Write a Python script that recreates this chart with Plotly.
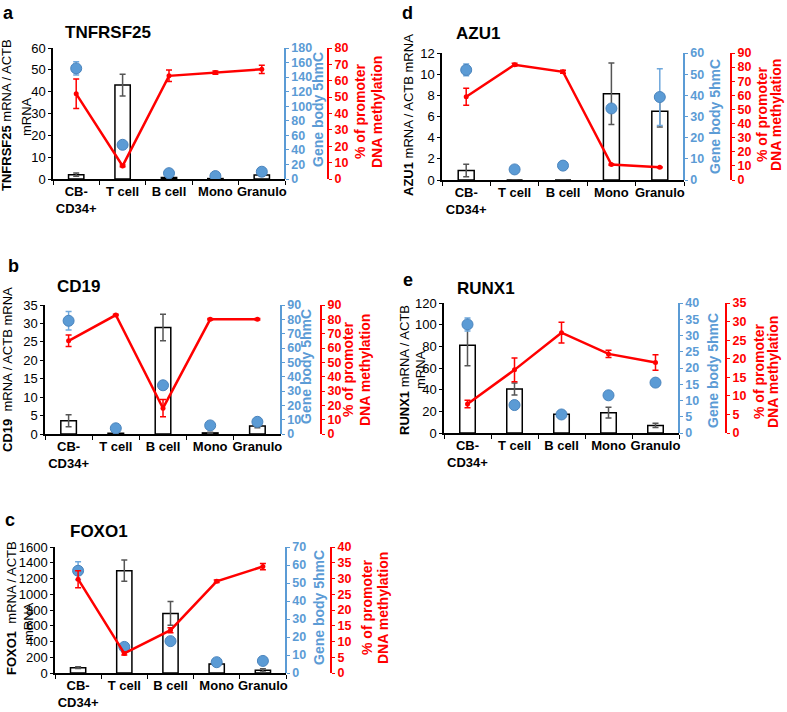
import plotly.graph_objects as go

W, H = 787, 712

CATEGORIES = ["CB-<br>CD34+", "T cell", "B cell", "Mono", "Granulo"]

# ---- a: TNFRSF25
TNFRSF25_mrna = [2.0, 43.0, 0.7, 0.2, 1.8]
TNFRSF25_mrna_err = [0.7, 5.0, 0.2, 0.1, 0.4]
TNFRSF25_hmc = [152, 47, 8, 4, 10]
TNFRSF25_hmc_err = [9, 0, 0, 0, 0]
TNFRSF25_meth = [52, 8, 63, 65, 67]
TNFRSF25_meth_err = [9, 0.5, 3.5, 1, 2.5]

# ---- b: CD19
CD19_mrna = [3.6, 0.2, 28.9, 0.3, 2.2]
CD19_mrna_err = [1.6, 0.1, 3.6, 0.2, 0.5]
CD19_hmc = [79, 4, 34, 6, 8.5]
CD19_hmc_err = [6.5, 0, 0, 0, 0]
CD19_meth = [65, 83, 18, 80, 80]
CD19_meth_err = [4, 0.5, 6, 0.5, 0.5]

# ---- c: FOXO1
FOXO1_mrna = [68, 1300, 757, 115, 34]
FOXO1_mrna_err = [10, 135, 150, 10, 20]
FOXO1_hmc = [56.8, 14.5, 17.7, 6, 6.7]
FOXO1_hmc_err = [5, 0, 0, 0, 0]
FOXO1_meth = [29.8, 6.2, 13.6, 29.1, 33.8]
FOXO1_meth_err = [2.7, 0.5, 0.8, 0.4, 1.0]

# ---- d: AZU1
AZU1_mrna = [0.9, 0, 0, 8.15, 6.5]
AZU1_mrna_err = [0.6, 0, 0, 2.9, 1.5]
AZU1_hmc = [52, 5, 6.8, 33.8, 39.2]
AZU1_hmc_err = [2.8, 0, 0, 0, 13.4]
AZU1_meth = [59, 81.7, 76.7, 10.9, 9.0]
AZU1_meth_err = [6, 1, 1, 0.5, 0.3]

# ---- e: RUNX1
RUNX1_mrna = [81, 40.6, 17.2, 18.8, 7]
RUNX1_mrna_err = [19, 5.5, 3, 5, 2]
RUNX1_hmc = [33.4, 8.6, 5.7, 11.6, 15.5]
RUNX1_hmc_err = [2, 0, 0, 0, 0]
RUNX1_meth = [7.8, 17, 27, 21.3, 19]
RUNX1_meth_err = [1, 3.2, 2.8, 1, 2.1]

BLUE = "#5b9bd5"
RED = "#ff0000"
FONT = "Liberation Sans, Arial, sans-serif"

panels = [
    dict(letter="a", gene="TNFRSF25",
         ytitle=[("<b>TNFRSF25</b> mRNA / ACTB", 6, 115), ("mRNA", 27, 117)],
         mrna=TNFRSF25_mrna, mrna_err=TNFRSF25_mrna_err, hmc=TNFRSF25_hmc, hmc_err=TNFRSF25_hmc_err,
         meth=TNFRSF25_meth, meth_err=TNFRSF25_meth_err,
         lr=[0, 60], ld=10, br=[0, 180], bd=20, rr=[0, 80], rd=10,
         left=53, blue=285, red=328, top=48, bottom=179,
         letter_xy=(1, 13), gene_xy=(63, 32), bt_xy=(318, 110), rt_x=(360, 377), rt_y=112),
    dict(letter="b", gene="CD19",
         ytitle=[("<b>CD19</b>\u00a0\u00a0mRNA / ACTB mRNA", 7, 370)],
         mrna=CD19_mrna, mrna_err=CD19_mrna_err, hmc=CD19_hmc, hmc_err=CD19_hmc_err,
         meth=CD19_meth, meth_err=CD19_meth_err,
         lr=[0, 35], ld=5, br=[0, 90], bd=10, rr=[0, 90], rd=10,
         left=45, blue=281, red=321, top=305, bottom=434,
         letter_xy=(6, 266), gene_xy=(55, 287), bt_xy=(306, 367), rt_x=(348, 365), rt_y=370),
    dict(letter="c", gene="FOXO1",
         ytitle=[("<b>FOXO1</b>\u00a0\u00a0mRNA / ACTB", 11, 608), ("mRNA", 28, 622)],
         mrna=FOXO1_mrna, mrna_err=FOXO1_mrna_err, hmc=FOXO1_hmc, hmc_err=FOXO1_hmc_err,
         meth=FOXO1_meth, meth_err=FOXO1_meth_err,
         lr=[0, 1600], ld=200, br=[0, 70], bd=10, rr=[0, 40], rd=5,
         left=55, blue=286, red=331, top=547, bottom=673,
         letter_xy=(3, 520), gene_xy=(68, 531), bt_xy=(319, 608), rt_x=(367, 383), rt_y=608),
    dict(letter="d", gene="AZU1",
         ytitle=[("<b>AZU1</b> mRNA / ACTB mRNA", 408, 115)],
         mrna=AZU1_mrna, mrna_err=AZU1_mrna_err, hmc=AZU1_hmc, hmc_err=AZU1_hmc_err,
         meth=AZU1_meth, meth_err=AZU1_meth_err,
         lr=[0, 12], ld=2, br=[0, 60], bd=10, rr=[0, 90], rd=10,
         left=442, blue=684, red=731, top=53, bottom=180,
         letter_xy=(400, 13), gene_xy=(454, 33), bt_xy=(715, 117), rt_x=(762, 776), rt_y=115),
    dict(letter="e", gene="RUNX1",
         ytitle=[("<b>RUNX1</b> mRNA / ACTB", 404, 370), ("mRNA", 420, 370)],
         mrna=RUNX1_mrna, mrna_err=RUNX1_mrna_err, hmc=RUNX1_hmc, hmc_err=RUNX1_hmc_err,
         meth=RUNX1_meth, meth_err=RUNX1_meth_err,
         lr=[0, 120], ld=20, br=[0, 40], bd=5, rr=[0, 35], rd=5,
         left=444, blue=679, red=726, top=303, bottom=433,
         letter_xy=(401, 280), gene_xy=(455, 288), bt_xy=(713, 371), rt_x=(759, 773), rt_y=372),
]


def px(x):
    return x / W


def py(y):
    return 1 - y / H


fig = go.Figure()
layout = dict(
    template="none",
    width=W, height=H, margin=dict(l=0, r=0, t=0, b=0, pad=0), autosize=False,
    paper_bgcolor="white", plot_bgcolor="rgba(0,0,0,0)",
    showlegend=False, font=dict(family=FONT, color="black", size=13),
    annotations=[],
)


def rot_text(text, x, y, size, color):
    return dict(text=text, x=px(x), y=py(y), xref="paper", yref="paper",
                xanchor="center", yanchor="middle", showarrow=False, textangle=-90,
                font=dict(family=FONT, size=size, color=color))


for i, p in enumerate(panels):
    xi = i + 1
    xname = "x" if xi == 1 else f"x{xi}"
    ys = [3 * i + 1, 3 * i + 2, 3 * i + 3]
    ynames = ["y" if n == 1 else f"y{n}" for n in ys]
    ykeys = ["yaxis" if n == 1 else f"yaxis{n}" for n in ys]
    xkey = "xaxis" if xi == 1 else f"xaxis{xi}"

    fig.add_trace(go.Bar(
        x=CATEGORIES, y=p["mrna"], xaxis=xname, yaxis=ynames[0], width=0.33,
        marker=dict(color="white", line=dict(color="black", width=1.5)),
        error_y=dict(type="data", array=p["mrna_err"], color="#555555", thickness=1.5, width=3),
    ))
    fig.add_trace(go.Scatter(
        x=CATEGORIES, y=p["hmc"], xaxis=xname, yaxis=ynames[1], mode="markers",
        marker=dict(color=BLUE, size=11, line=dict(color="#4a84bd", width=1)),
        error_y=dict(type="data", array=p["hmc_err"], color="#6fa8dc", thickness=1.5, width=3),
    ))
    fig.add_trace(go.Scatter(
        x=CATEGORIES, y=p["meth"], xaxis=xname, yaxis=ynames[2], mode="lines+markers",
        line=dict(color=RED, width=2.5), marker=dict(color=RED, size=5),
        error_y=dict(type="data", array=p["meth_err"], color=RED, thickness=1.5, width=3),
    ))

    ydom = [py(p["bottom"]), py(p["top"])]
    layout[xkey] = dict(
        domain=[px(p["left"]), px(p["blue"])], anchor=ynames[0], type="category",
        range=[-0.5, 4.5], tickson="boundaries", ticks="outside", ticklen=4,
        tickcolor="black", showline=True, linecolor="black", linewidth=1.5,
        showgrid=False, zeroline=False, tickangle=0, automargin=False,
        tickfont=dict(family=FONT, size=13, color="black", weight="bold"),
    )
    layout[ykeys[0]] = dict(
        domain=ydom, anchor=xname, range=p["lr"], dtick=p["ld"], tick0=0,
        showline=True, linecolor="black", linewidth=1.5, ticks="outside", ticklen=3,
        tickcolor="black", showgrid=False, zeroline=False, automargin=False,
        tickfont=dict(family=FONT, size=13, color="black"),
    )
    layout[ykeys[1]] = dict(
        overlaying=ynames[0], anchor="free", position=px(p["blue"]), side="right",
        range=p["br"], dtick=p["bd"], tick0=0, automargin=False,
        showline=True, linecolor=BLUE, linewidth=1.5, ticks="outside", ticklen=3,
        tickcolor=BLUE, showgrid=False, zeroline=False,
        tickfont=dict(family=FONT, size=12.5, color=BLUE, weight="bold"),
    )
    layout[ykeys[2]] = dict(
        overlaying=ynames[0], anchor="free", position=px(p["red"]), side="right",
        range=p["rr"], dtick=p["rd"], tick0=0, automargin=False,
        showline=True, linecolor=RED, linewidth=2, ticks="outside", ticklen=3,
        tickcolor=RED, showgrid=False, zeroline=False,
        tickfont=dict(family=FONT, size=12.5, color=RED, weight="bold"),
    )

    ann = layout["annotations"]
    ann.append(dict(text=f"<b>{p['letter']}</b>", x=px(p["letter_xy"][0]), y=py(p["letter_xy"][1]),
                    xref="paper", yref="paper", xanchor="left", yanchor="middle", showarrow=False,
                    font=dict(family=FONT, size=18, color="black")))
    ann.append(dict(text=f"<b>{p['gene']}</b>", x=px(p["gene_xy"][0]), y=py(p["gene_xy"][1]),
                    xref="paper", yref="paper", xanchor="left", yanchor="middle", showarrow=False,
                    font=dict(family=FONT, size=17, color="black")))
    for txt, tx, ty in p["ytitle"]:
        ann.append(rot_text(txt, tx, ty, 13, "black"))
    ann.append(rot_text("<b>Gene body 5hmC</b>", p["bt_xy"][0], p["bt_xy"][1], 14, BLUE))
    ann.append(rot_text("<b>% of promoter</b>", p["rt_x"][0], p["rt_y"], 14, RED))
    ann.append(rot_text("<b>DNA methylation</b>", p["rt_x"][1], p["rt_y"], 14, RED))

fig.update_layout(**layout)
fig.write_html("out.html", config={"displayModeBar": False},
               post_script="document.body.style.margin='0';")
